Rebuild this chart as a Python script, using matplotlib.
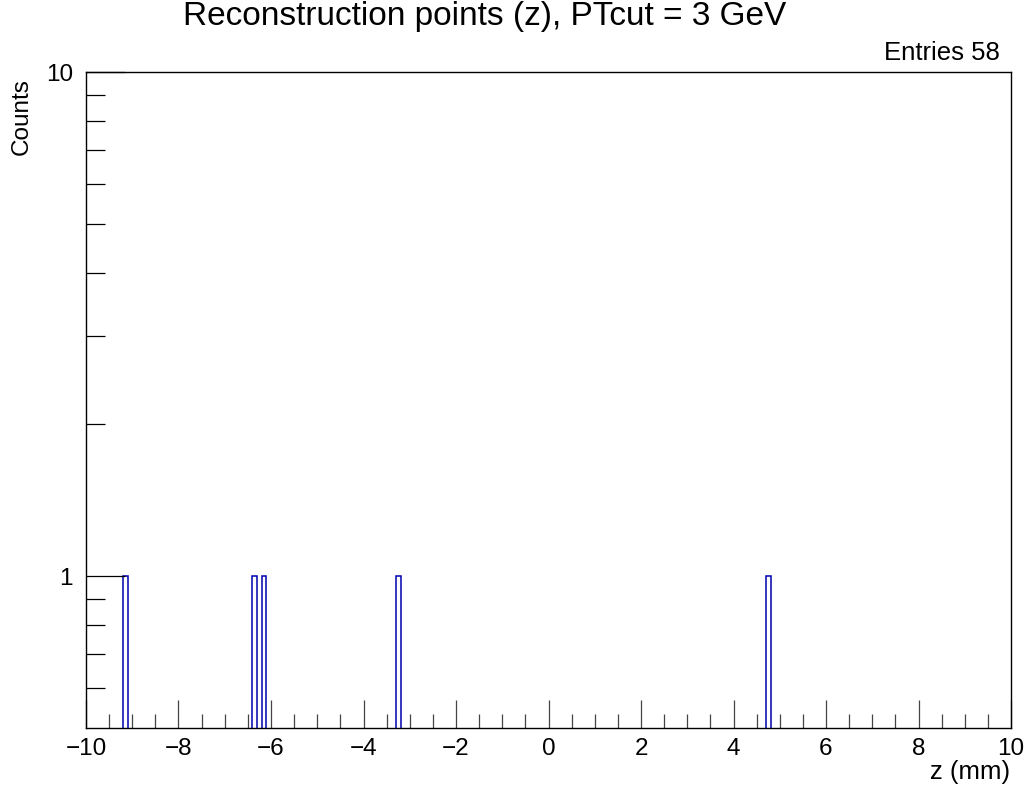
import numpy as np
import matplotlib
matplotlib.use("Agg")
import matplotlib.pyplot as plt
from matplotlib.ticker import MultipleLocator, FixedLocator, NullFormatter

plt.rcParams['font.family'] = ['Liberation Sans', 'DejaVu Sans']

# histogram definition: 200 bins of 0.1 mm between -10 and 10 mm
n_bins = 200
z_min, z_max = -10.0, 10.0
# centres of the filled bins and their contents
filled_centres = [-9.15, -6.35, -6.15, -3.25, 4.75]
filled_counts = [1, 1, 1, 1, 1]
entries = 58

title = "Reconstruction points (z), PTcut = 3 GeV"
x_label = "z (mm)"
y_label = "Counts"

edges = np.linspace(z_min, z_max, n_bins + 1)
counts = np.zeros(n_bins)
for c, v in zip(filled_centres, filled_counts):
    counts[np.searchsorted(edges, c) - 1] += v

fig = plt.figure(figsize=(10.32, 7.89), dpi=100)
ax = fig.add_axes([86 / 1032, 61 / 789, 925 / 1032, 656 / 789])
ax.set_yscale('log')

# empty bins drop far below the visible range, like a ROOT outline
draw_vals = np.where(counts > 0, counts, 1e-3)
ax.stairs(draw_vals, edges, baseline=1e-3, color='#0000b0', linewidth=1.1)

ax.set_xlim(z_min, z_max)
ax.set_ylim(0.5, 10)

for s in ax.spines.values():
    s.set_linewidth(1.0)
    s.set_color('black')

ax.xaxis.set_major_locator(MultipleLocator(2))
ax.xaxis.set_minor_locator(MultipleLocator(0.5))
ax.yaxis.set_major_locator(FixedLocator([1, 10]))
ax.yaxis.set_minor_locator(FixedLocator([0.6, 0.7, 0.8, 0.9, 2, 3, 4, 5, 6, 7, 8, 9]))
ax.yaxis.set_minor_formatter(NullFormatter())
ax.set_yticklabels(['1', '10'])
ax.set_xticks(np.arange(-10, 11, 2))
ax.set_xticklabels([f"{v:d}".replace('-', '\u2212') for v in range(-10, 11, 2)])

ax.tick_params(axis='x', which='major', direction='in', length=20, width=0.9,
               labelsize=17.5, pad=7, top=False, color='#444444')
ax.tick_params(axis='x', which='minor', direction='in', length=10, width=0.9,
               top=False, color='#444444')
ax.tick_params(axis='y', which='major', direction='in', length=28, width=0.9,
               labelsize=17.5, pad=9.5, right=False, color='black')
ax.tick_params(axis='y', which='minor', direction='in', length=14, width=0.9,
               right=False, color='black')

fig.text(485 / 1032, 1 - 17 / 789, title, ha='center', va='center', fontsize=24)
fig.text(1000 / 1032, 1 - 53 / 789, f"Entries {entries}", ha='right', va='center', fontsize=18.5)
fig.text(1010 / 1032, 1 - 772 / 789, x_label, ha='right', va='center', fontsize=18.5)
fig.text(22 / 1032, 1 - 78 / 789, y_label, ha='center', va='top', rotation=90, fontsize=17.5)

fig.savefig("out.png", dpi=100)
